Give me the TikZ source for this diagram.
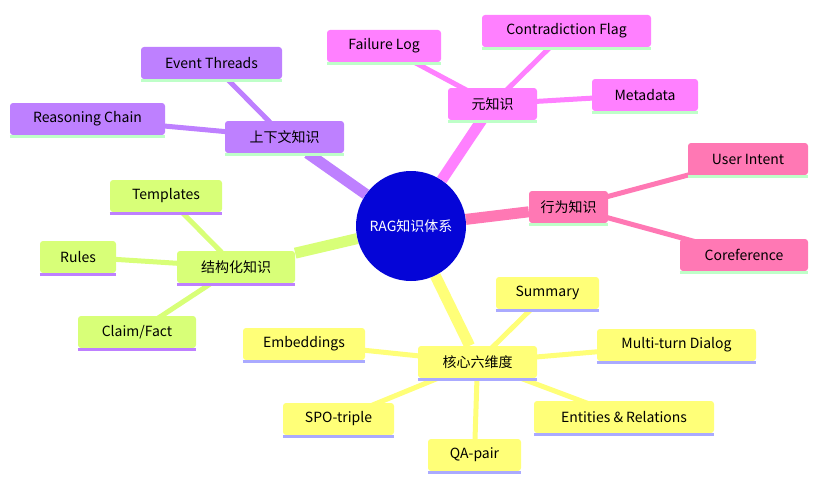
\documentclass[tikz,border=0pt]{standalone}
\usepackage{fontspec}
\setmainfont{Noto Sans CJK SC}
\usetikzlibrary{backgrounds}
\definecolor{cY}{RGB}{255,255,120}
\definecolor{cYl}{RGB}{170,170,255}
\definecolor{cM}{RGB}{255,128,255}
\definecolor{cP}{RGB}{190,128,255}
\definecolor{cK}{RGB}{255,120,180}
\definecolor{cG}{RGB}{216,255,120}
\definecolor{cGl}{RGB}{190,255,200}
\definecolor{cB}{RGB}{5,5,215}
\tikzset{
 box/.style={fill=#1, rounded corners=3pt, minimum height=32pt, inner sep=0pt, font=\fontsize{14}{16}\selectfont, anchor=center},
 uline/.style={line width=3pt, draw=#1},
 thick edge/.style={line width=11pt, draw=#1},
 thin edge/.style={line width=5pt, draw=#1},
}
\begin{document}
\begin{tikzpicture}[x=1pt,y=-1pt]
\useasboundingbox (0,0) rectangle (834,495);
\node[circle, fill=cB, minimum size=110pt, text=white, font=\fontsize{14}{16}\selectfont] (root) at (411,226) {RAG知识体系};
% children
\node[box=cM, minimum width=89pt] (meta) at (492.5,104) {元知识};
\node[box=cM, minimum width=114pt] (fail) at (384,46) {Failure Log};
\node[box=cM, minimum width=169pt] (contra) at (566.5,31) {Contradiction Flag};
\node[box=cM, minimum width=106pt] (metad) at (645,95) {Metadata};
\node[box=cP, minimum width=119pt] (ctx) at (284.5,137) {上下文知识};
\node[box=cP, minimum width=141pt] (event) at (211.5,63) {Event Threads};
\node[box=cP, minimum width=155pt] (reason) at (87.5,119) {Reasoning Chain};
\node[box=cK, minimum width=79pt] (beh) at (568.5,207) {行为知识};
\node[box=cK, minimum width=120pt] (intent) at (748,159) {User Intent};
\node[box=cK, minimum width=128pt] (coref) at (744,255) {Coreference};
\node[box=cG, minimum width=118pt] (struct) at (236,267) {结构化知识};
\node[box=cG, minimum width=112pt] (tmpl) at (166,196) {Templates};
\node[box=cG, minimum width=76pt] (rules) at (78,257) {Rules};
\node[box=cG, minimum width=118pt] (claim) at (137,332) {Claim/Fact};
\node[box=cY, minimum width=119pt] (core) at (477.5,362) {核心六维度};
\node[box=cY, minimum width=103pt] (summ) at (547.5,293) {Summary};
\node[box=cY, minimum width=159pt] (multi) at (676.5,345) {Multi-turn Dialog};
\node[box=cY, minimum width=180pt] (ent) at (624,417) {Entities \& Relations};
\node[box=cY, minimum width=93pt] (qa) at (474.5,455) {QA-pair};
\node[box=cY, minimum width=111pt] (spo) at (338.5,419) {SPO-triple};
\node[box=cY, minimum width=122pt] (emb) at (304,344) {Embeddings};
\begin{scope}[on background layer]
 \draw[thick edge=cM] (root) -- (meta);
 \draw[thick edge=cP] (root) -- (ctx);
 \draw[thick edge=cK] (root) -- (beh);
 \draw[thick edge=cG] (root) -- (struct);
 \draw[thick edge=cY] (root) -- (core);
 \foreach \a/\b/\c in {meta/fail/cM,meta/contra/cM,meta/metad/cM,ctx/event/cP,ctx/reason/cP,beh/intent/cK,beh/coref/cK,struct/tmpl/cG,struct/rules/cG,struct/claim/cG,core/summ/cY,core/multi/cY,core/ent/cY,core/qa/cY,core/spo/cY,core/emb/cY}
   \draw[thin edge=\c] (\a.center) -- (\b.center);
\end{scope}
\foreach \n/\c in {meta/cGl,fail/cGl,contra/cGl,metad/cGl,ctx/cGl,event/cGl,reason/cGl,beh/cGl,intent/cGl,coref/cGl}
  \draw[uline=\c] ([yshift=-1.5pt]\n.south west) -- ([yshift=-1.5pt]\n.south east);
\foreach \n in {struct,tmpl,rules,claim}
  \draw[uline=cP] ([yshift=-1.5pt]\n.south west) -- ([yshift=-1.5pt]\n.south east);
\foreach \n in {core,summ,multi,ent,qa,spo,emb}
  \draw[uline=cYl] ([yshift=-1.5pt]\n.south west) -- ([yshift=-1.5pt]\n.south east);
\end{tikzpicture}
\end{document}
